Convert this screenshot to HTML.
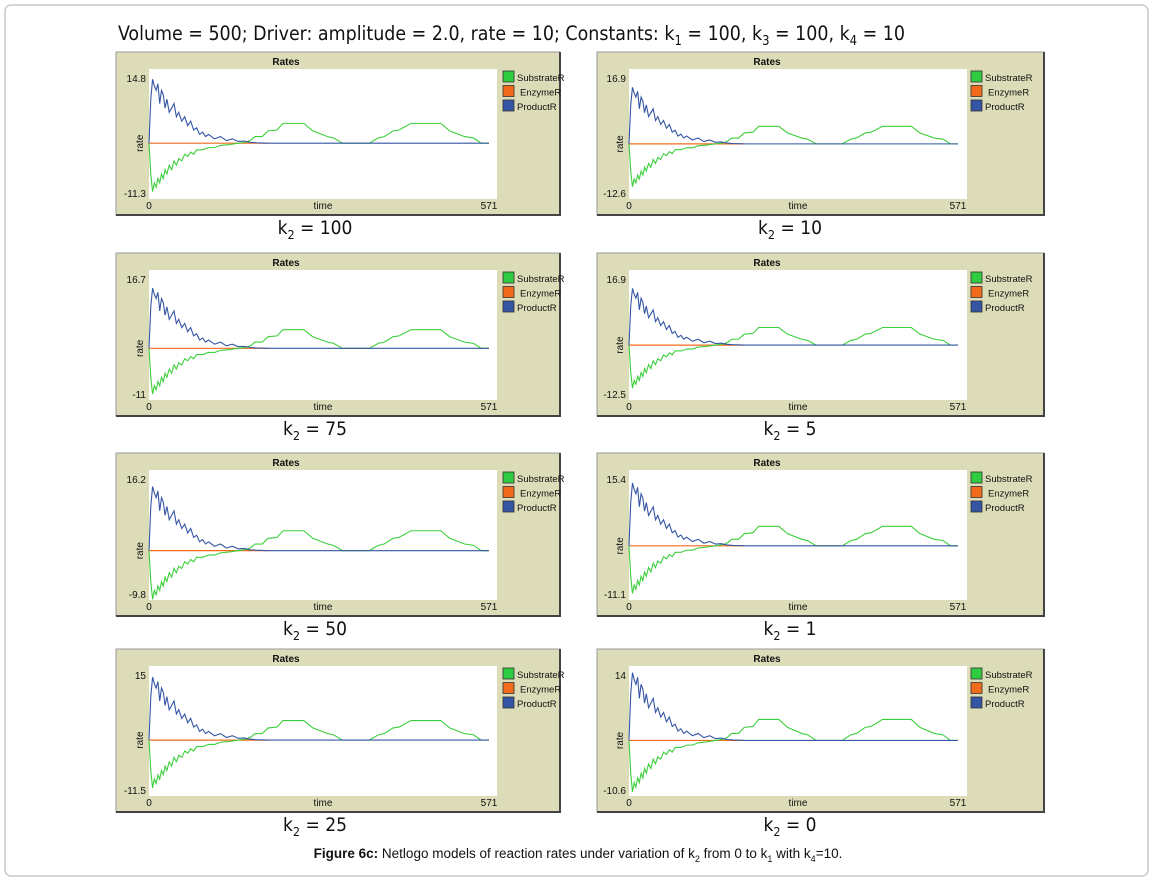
<!DOCTYPE html>
<html><head><meta charset="utf-8"><style>
body{margin:0;background:#fff;}
svg{display:block;font-family:"Liberation Sans",sans-serif;}
</style></head><body>
<svg id="fig" width="1154" height="881" viewBox="0 0 1154 881">
<rect x="5" y="5" width="1143" height="871" rx="6" fill="#fff" stroke="#c8c8c8" stroke-width="1.5"/>
<text x="118" y="40" font-size="19.5" textLength="787" lengthAdjust="spacingAndGlyphs" fill="#111" font-family="'DejaVu Sans Condensed','Liberation Sans',sans-serif">Volume = 500; Driver: amplitude = 2.0, rate = 10; Constants: k<tspan font-size="13" dy="5">1</tspan><tspan dy="-5"> = 100, k</tspan><tspan font-size="13" dy="5">3</tspan><tspan dy="-5"> = 100, k</tspan><tspan font-size="13" dy="5">4</tspan><tspan dy="-5"> = 10</tspan></text>
<text x="578" y="858" font-size="13.5" text-anchor="middle" fill="#111"><tspan font-weight="bold">Figure 6c:</tspan> Netlogo models of reaction rates under variation of k<tspan font-size="9" dy="4">2</tspan><tspan dy="-4"> from 0 to k</tspan><tspan font-size="9" dy="4">1</tspan><tspan dy="-4"> with k</tspan><tspan font-size="9" dy="4">4</tspan><tspan dy="-4">=10.</tspan></text>
<g id="panels"></g>
</svg>
<script>
// shared time axis and series shapes (rate units)
const times = [0,3,6,9,12,15,18,21,24,27,30,34,38,42,46,50,55,60,65,70,75,80,85,90,95,100,110,120,130,140,150,160,170,180,200,571];
const productVals = [0,10,14.5,13,12,13.5,9,12,11,8,10,7,8,9,6,7,5,6,4,5,3,3.5,2,2.5,1.5,2,1,1.5,0.6,1,0.4,0.5,0.2,0.1,0,0];
const subTimes = [0,3,6,9,12,15,18,21,24,27,30,34,38,42,46,50,55,60,65,70,75,80,90,100,110,120,135,150,165,172,178,190,200,215,225,260,275,300,310,325,370,385,395,410,420,440,450,490,505,530,545,558,571];
const substrateVals = [0,-7,-11,-9,-10,-8,-9,-7,-8,-6,-7,-5,-6,-4,-5,-3.5,-4,-2.5,-3,-2,-2.5,-1.5,-1.5,-1,-1,-0.5,-0.3,0,0.3,0.8,1.5,1.5,2.8,3,4.5,4.5,2.8,1.5,1.2,0,0,1.2,1.5,2.8,3,4.5,4.5,4.5,2.8,1.5,1.2,0,0];
const panelLabels = ["100","75","50","25","10","5","1","0"];
const panelMax = [14.8,16.7,16.2,15,16.9,16.9,15.4,14];
const panelMin = [-11.3,-11,-9.8,-11.5,-12.6,-12.5,-11.1,-10.6];
const tMax = 571;

const NS="http://www.w3.org/2000/svg";
const root=document.getElementById('panels');
function mk(tag,attrs,parent,text){const e=document.createElementNS(NS,tag);for(const k in attrs)e.setAttribute(k,attrs[k]);if(text!==undefined)e.textContent=text;parent.appendChild(e);return e;}
const tops=[52,253,453,649];
for(let i=0;i<8;i++){
  const col=i<4?0:1, row=i%4;
  const L=col?597:116, T=tops[row];
  const W=col?447:444, H=163;
  const plotL=L+(col?32:33), plotW=col?338:348;
  const dataW=col?329:340;
  const legX=L+(col?374:387);
  const g=mk('g',{},root);
  
  
  const bg=mk('rect',{x:L,y:T,width:W,height:H,fill:'#dcdcb8',stroke:'#9a9a9a','stroke-width':1},g);
  
  
  const sh=mk('path',{d:`M${L+W} ${T} L${L+W} ${T+H} L${L} ${T+H}`,fill:'none',stroke:'#444','stroke-width':2},g);
  
  
  const tt=mk('text',{x:L+170,y:T+13,'font-size':10,'font-weight':'bold','text-anchor':'middle',fill:'#111'},g,'Rates');
  
  
  const pl=mk('rect',{x:plotL,y:T+17,width:plotW,height:130,fill:'#fff'},g);
  
  
  const y0=T+26,y1=T+141,mx=panelMax[i],mn=panelMin[i];
  const ys=v=>y0+(mx-v)/(mx-mn)*(y1-y0);
  const xs=t=>plotL+t/tMax*dataW;
  const lab=(x,y,s,anch,name)=>{const e=mk('text',{x:x,y:y,'font-size':10,'text-anchor':anch,fill:'#111'},g,s);};
  lab(plotL-3,y0+4,String(mx),'end','y-max-label');
  lab(plotL-3,y1+4,String(mn),'end','y-min-label');
  lab(plotL,T+157,'0','middle','x-min-label');
  lab(plotL+dataW,T+157,'571','middle','x-max-label');
  lab(plotL+plotW/2,T+157,'time','middle','x-axis-title');
  const ry=mk('text',{x:plotL-6,y:ys(0),'font-size':10,'text-anchor':'middle',fill:'#111',transform:`rotate(-90 ${plotL-6} ${ys(0)})`},g,'rate');
  
  
  const en=mk('line',{x1:xs(0),y1:ys(0),x2:xs(200),y2:ys(0),stroke:'#f26b1d','stroke-width':1.2},g);
  
  
  const sp=mk('polyline',{points:subTimes.map((t,j)=>xs(t)+','+ys(substrateVals[j])).join(' '),fill:'none',stroke:'#3ccf3c','stroke-width':1.1},g);
  
  
  const pp=mk('polyline',{points:times.map((t,j)=>xs(t)+','+ys(productVals[j])).join(' '),fill:'none',stroke:'#3455a4','stroke-width':1.1},g);
  
  
  const names=['SubstrateR','EnzymeR','ProductR'],cols=['#2ecc40','#f26b1d','#3455a4'];
  names.forEach((n,k)=>{
    const ly=T+19+k*14.5;
    const s=mk('rect',{x:legX,y:ly,width:11,height:11,fill:cols[k],stroke:'#333','stroke-width':0.8},g);
    
    
    const t=mk('text',{x:legX+14+(k==1?3:0),y:ly+10,'font-size':9.5,fill:'#111'},g,n);
    
    
  });
  const kl=mk('text',{x:L+(col?193:199),y:T+182,'font-size':19,'text-anchor':'middle',fill:'#111',"font-family":"'DejaVu Sans Condensed','Liberation Sans',sans-serif"},root);
  kl.innerHTML='k<tspan font-size="12.5" dy="5">2</tspan><tspan dy="-5"> = '+panelLabels[i]+'</tspan>';
  
  
}
</script>
</body></html>
